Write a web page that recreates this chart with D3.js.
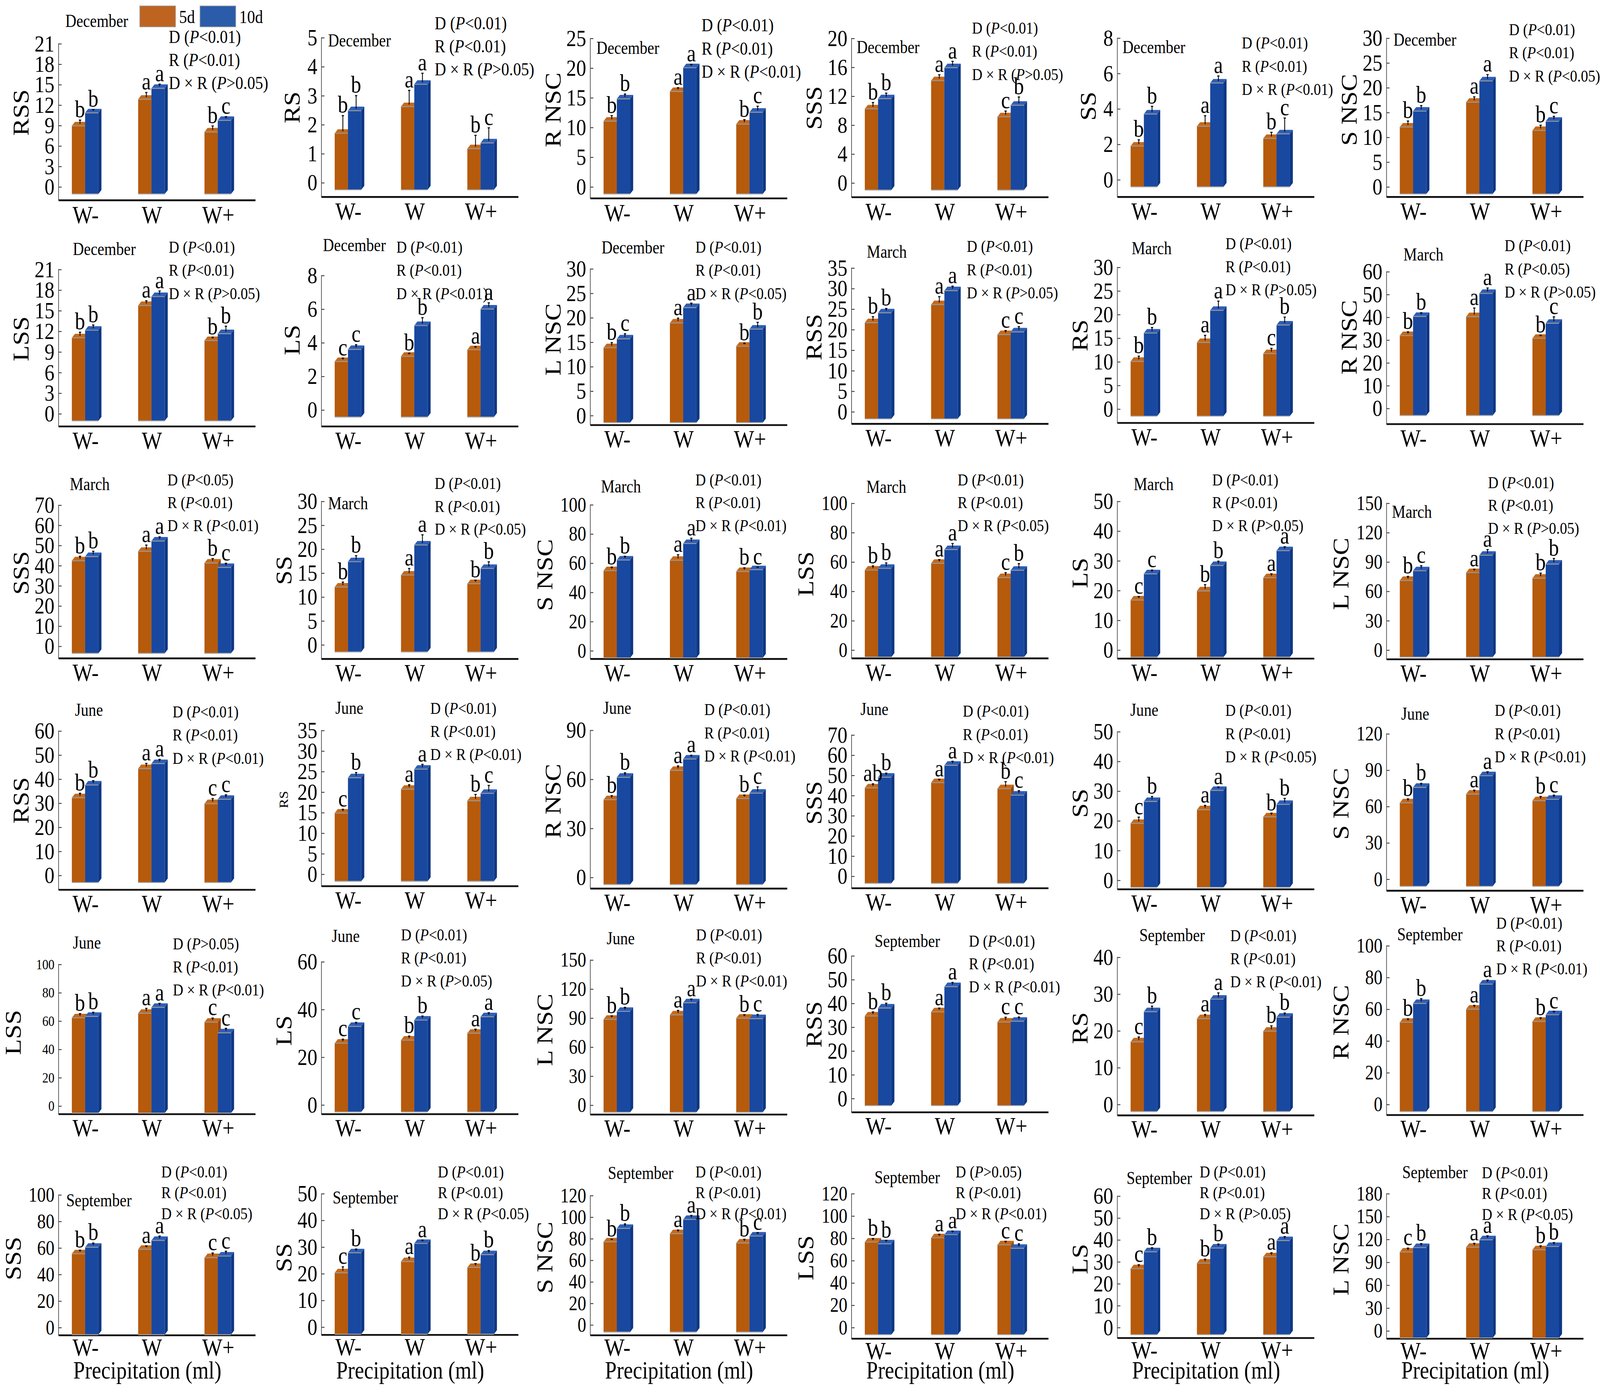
<!DOCTYPE html>
<html>
<head>
<meta charset="utf-8">
<script src="https://cdn.jsdelivr.net/npm/d3@7"></script>
<style>
  html, body { margin: 0; padding: 0; background: #fff; overflow: hidden; }
  svg { display: block; font-family: "Liberation Serif", "Times New Roman", Times, serif; }
</style>
</head>
<body>
<div id="chart"></div>
<script>
// ---- data ----
const groups = ['W-', 'W', 'W+'];
const seriesNames = ['5d', '10d'];

const panelLabels = [
  'RSS', 'RS', 'R NSC', 'SSS', 'SS', 'S NSC',
  'LSS', 'LS', 'L NSC', 'RSS', 'RS', 'R NSC',
  'SSS', 'SS', 'S NSC', 'LSS', 'LS', 'L NSC',
  'RSS', 'RS', 'R NSC', 'SSS', 'SS', 'S NSC',
  'LSS', 'LS', 'L NSC', 'RSS', 'RS', 'R NSC',
  'SSS', 'SS', 'S NSC', 'LSS', 'LS', 'L NSC'
];
const panelMonths = [
  ...Array(9).fill('December'), ...Array(9).fill('March'),
  ...Array(9).fill('June'), ...Array(9).fill('September')
];

const tickMax = [21, 5, 25, 20, 8, 30, 21, 8, 30, 35, 30, 60, 70, 30, 100, 100, 50, 150,
  60, 35, 90, 70, 50, 120, 100, 60, 150, 60, 40, 100, 100, 50, 120, 120, 60, 180];
const tickStep = [3, 1, 5, 4, 2, 5, 3, 2, 5, 5, 5, 10, 10, 5, 20, 20, 10, 30,
  10, 5, 30, 10, 10, 30, 20, 20, 30, 10, 10, 20, 20, 10, 20, 20, 10, 30];

// values per panel: [W-, W, W+]
const values5d = [
  [8.9, 12.8, 8.0], [1.69, 2.61, 1.16], [11.0, 16.0, 10.5], [10.2, 14.1, 9.1], [1.88, 3.0, 2.31], [12.0, 17.0, 11.3],
  [11.0, 15.7, 10.6], [2.86, 3.17, 3.56], [13.8, 18.85, 14.1], [21.6, 26.0, 18.7], [10.0, 14.0, 11.65], [31.8, 40.1, 30.6],
  [42.2, 46.9, 41.1], [12.0, 14.5, 12.7], [54.6, 61.7, 54.0], [54.2, 58.8, 49.1], [16.7, 19.75, 24.2], [70.7, 78.7, 73.0],
  [32.1, 44.2, 29.65], [14.8, 20.6, 17.8], [47.3, 65.2, 48.0], [43.6, 46.2, 43.2], [19.0, 23.6, 21.2], [62.7, 69.9, 64.5],
  [62.0, 65.2, 58.9], [25.7, 27.0, 29.9], [88.3, 92.9, 89.5], [34.55, 36.3, 32.0], [16.9, 23.2, 19.8], [51.5, 59.8, 52.1],
  [55.3, 58.7, 52.4], [20.2, 24.4, 22.2], [76.7, 84.3, 75.6], [76.3, 80.1, 73.8], [26.65, 29.2, 32.1], [102.9, 109.2, 105.9]
];
const values10d = [
  [10.8, 14.4, 9.7], [2.47, 3.38, 1.36], [14.75, 20.0, 12.5], [11.6, 15.9, 10.7], [3.69, 5.44, 2.57], [15.2, 21.3, 13.15],
  [12.1, 17.0, 11.6], [3.58, 5.0, 5.98], [15.6, 22.0, 17.6], [24.0, 29.4, 19.35], [16.0, 20.8, 17.7], [40.2, 50.3, 37.2],
  [44.3, 52.0, 38.9], [17.3, 20.8, 15.9], [61.9, 73.2, 55.3], [55.4, 68.2, 54.1], [25.5, 28.3, 33.3], [80.6, 96.5, 87.4],
  [37.4, 46.3, 31.45], [23.4, 25.5, 19.6], [61.0, 72.2, 51.3], [48.9, 54.8, 40.0], [26.4, 30.1, 25.4], [75.5, 85.1, 65.6],
  [63.0, 69.4, 51.4], [32.75, 35.4, 36.8], [96.5, 105.4, 89.0], [37.9, 46.9, 32.35], [25.1, 28.5, 23.6], [63.4, 75.6, 56.3],
  [60.25, 65.4, 53.6], [27.7, 31.2, 27.0], [89.2, 97.5, 82.1], [74.7, 83.0, 70.7], [34.4, 36.1, 39.5], [108.8, 119.0, 110.2]
];
const err5d = [
  [0.54, 0.69, 0.58], [0.54, 0.49, 0.39], [0.59, 0.29, 0.42], [0.59, 0.53, 0.51], [0.24, 0.48, 0.23], [0.8, 0.68, 0.65],
  [0.51, 0.4, 0.18], [0.08, 0.06, 0.06], [0.63, 0.57, 0.2], [0.96, 1.44, 0.49], [0.68, 1.09, 0.68], [0.75, 2.9, 0.43],
  [1.22, 2.1, 1.22], [0.61, 0.95, 0.3], [1.07, 2.4, 1.18], [1.48, 1.17, 1.99], [0.48, 1.43, 0.63], [2.06, 1.45, 3.1],
  [1.02, 1.33, 1.27], [0.42, 0.6, 1.04], [1.23, 1.5, 0.87], [1.0, 0.63, 2.48], [1.43, 0.78, 0.58], [1.6, 1.6, 1.8],
  [1.5, 2.06, 1.5], [0.85, 0.85, 0.85], [1.47, 2.55, 1.47], [0.85, 0.72, 1.16], [0.79, 0.59, 0.91], [0.9, 1.08, 0.99],
  [1.18, 0.96, 1.97], [1.48, 0.92, 0.7], [0.5, 1.46, 1.6], [1.3, 1.3, 1.3], [0.9, 0.9, 0.9], [2.5, 2.5, 2.5]
];
const err10d = [
  [0.2, 0.32, 0.25], [0.45, 0.31, 0.45], [0.47, 0.21, 0.67], [0.49, 0.59, 0.86], [0.32, 0.28, 0.78], [0.71, 0.86, 0.59],
  [0.47, 0.51, 0.79], [0.16, 0.35, 0.25], [0.63, 0.5, 0.97], [0.56, 0.6, 0.78], [0.74, 1.53, 1.25], [0.75, 1.48, 1.93],
  [1.6, 1.07, 1.07], [0.83, 1.7, 0.95], [1.18, 2.2, 0.36], [2.3, 2.7, 3.1], [0.58, 0.78, 0.63], [3.1, 3.7, 3.7],
  [0.96, 0.9, 1.02], [0.78, 0.67, 1.44], [1.5, 1.05, 2.6], [1.0, 1.0, 1.22], [0.98, 0.48, 1.33], [1.6, 1.6, 1.8],
  [1.5, 1.4, 1.74], [0.85, 0.85, 0.85], [2.08, 1.78, 2.24], [1.16, 0.91, 0.91], [0.95, 1.16, 0.59], [1.74, 1.27, 0.8],
  [1.63, 1.75, 2.08], [0.64, 0.53, 0.81], [2.29, 1.87, 1.32], [1.3, 1.3, 2.2], [0.9, 0.9, 0.9], [2.5, 2.5, 2.5]
];
const letters5d = [
  ['b', 'a', 'b'], ['b', 'a', 'b'], ['b', 'a', 'b'], ['b', 'a', 'c'], ['b', 'a', 'b'], ['b', 'a', 'b'],
  ['b', 'a', 'b'], ['c', 'b', 'a'], ['b', 'a', 'b'], ['b', 'a', 'c'], ['b', 'a', 'c'], ['b', 'a', 'b'],
  ['b', 'a', 'b'], ['b', 'a', 'b'], ['b', 'a', 'b'], ['b', 'a', 'c'], ['c', 'b', 'a'], ['b', 'a', 'b'],
  ['b', 'a', 'c'], ['c', 'a', 'b'], ['b', 'a', 'b'], ['ab', 'a', 'b'], ['c', 'a', 'b'], ['b', 'a', 'b'],
  ['b', 'a', 'c'], ['c', 'b', 'a'], ['b', 'a', 'b'], ['b', 'a', 'c'], ['c', 'a', 'b'], ['b', 'a', 'b'],
  ['b', 'a', 'c'], ['c', 'a', 'b'], ['b', 'a', 'b'], ['b', 'a', 'c'], ['c', 'b', 'a'], ['c', 'a', 'b']
];
const letters10d = [
  ['b', 'a', 'c'], ['b', 'a', 'c'], ['b', 'a', 'c'], ['b', 'a', 'b'], ['b', 'a', 'c'], ['b', 'a', 'c'],
  ['b', 'a', 'b'], ['c', 'b', 'a'], ['c', 'a', 'b'], ['b', 'a', 'c'], ['b', 'a', 'b'], ['b', 'a', 'c'],
  ['b', 'a', 'c'], ['b', 'a', 'b'], ['b', 'a', 'c'], ['b', 'a', 'b'], ['c', 'b', 'a'], ['c', 'a', 'b'],
  ['b', 'a', 'c'], ['b', 'a', 'c'], ['b', 'a', 'c'], ['b', 'a', 'c'], ['b', 'a', 'b'], ['b', 'a', 'c'],
  ['b', 'a', 'c'], ['c', 'b', 'a'], ['b', 'a', 'c'], ['b', 'a', 'c'], ['b', 'a', 'b'], ['b', 'a', 'c'],
  ['b', 'a', 'c'], ['b', 'a', 'b'], ['b', 'a', 'c'], ['b', 'a', 'c'], ['b', 'b', 'a'], ['b', 'a', 'b']
];
// two-way ANOVA p-values: D, R, D x R
const pD = [
  '<0.01', '<0.01', '<0.01', '<0.01', '<0.01', '<0.01', '<0.01', '<0.01', '<0.01', '<0.01', '<0.01', '<0.01',
  '<0.05', '<0.01', '<0.01', '<0.01', '<0.01', '<0.01', '<0.01', '<0.01', '<0.01', '<0.01', '<0.01', '<0.01',
  '>0.05', '<0.01', '<0.01', '<0.01', '<0.01', '<0.01', '<0.01', '<0.01', '<0.01', '>0.05', '<0.01', '<0.01'
];
const pR = [
  '<0.01', '<0.01', '<0.01', '<0.01', '<0.01', '<0.01', '<0.01', '<0.01', '<0.01', '<0.01', '<0.01', '<0.05',
  '<0.01', '<0.01', '<0.01', '<0.01', '<0.01', '<0.01', '<0.01', '<0.01', '<0.01', '<0.01', '<0.01', '<0.01',
  '<0.01', '<0.01', '<0.01', '<0.01', '<0.01', '<0.01', '<0.01', '<0.01', '<0.01', '<0.01', '<0.01', '<0.01'
];
const pDR = [
  '>0.05', '>0.05', '<0.01', '>0.05', '<0.01', '<0.05', '>0.05', '<0.01', '<0.05', '>0.05', '>0.05', '>0.05',
  '<0.01', '<0.05', '<0.01', '<0.05', '>0.05', '>0.05', '<0.01', '<0.01', '<0.01', '<0.01', '<0.05', '<0.01',
  '<0.01', '>0.05', '<0.01', '<0.01', '<0.01', '<0.01', '<0.05', '<0.05', '<0.01', '<0.01', '>0.05', '<0.05'
];

// ---- layout (drawn in 1568 x 1172.6 units, stretched over the window) ----
const VW = 1568, VH = 1172.6;
const W = window.innerWidth || 4770;
const H = window.innerHeight || 3567;
const colX = [57.4, 315, 578.5, 834.5, 1095, 1358.8];
const plotTop = [36.5, 31.4, 32, 32, 31.7, 31.8, 226.5, 231.6, 226, 225.3, 224.7, 228.4,
  424.9, 421.7, 424.6, 423.3, 421.7, 423.3, 615, 614.6, 614.4, 618.4, 615.6, 617.4,
  811.5, 809.3, 807.8, 804.3, 805.5, 795.8, 1005.5, 1004.5, 1006.1, 1004.5, 1006.5, 1004.5];
const plotZero = [157, 153.5, 157, 153.7, 151, 157, 348, 344.8, 349.5, 346.3, 344, 343.5,
  543.7, 542.5, 547.5, 546.9, 546.9, 546.9, 736.6, 735.6, 738.3, 737.3, 740.7, 739.8,
  930.7, 929.8, 930, 924.4, 929.4, 929.4, 1117.2, 1116.8, 1115, 1117.2, 1117.2, 1120];
const axisLineY = [168.6, 165.8, 167, 166, 165.8, 165.8, 359, 359, 357.8, 356.8, 356, 357,
  554.2, 554.7, 554.7, 554.2, 554.4, 555, 749, 746, 748, 747.7, 748.6, 749.8,
  937.9, 937.9, 938.2, 936.3, 938.9, 938.6, 1124, 1123.7, 1124, 1126.9, 1126.3, 1126.9];
const monthPos = [[6.6, 22.6], [6.5, 39], [6, 45.3], [5, 44.7], [5, 44.7], [6.8, 38.4],
  [14, 214.6], [1.5, 211.5], [11, 213.3], [15, 217.1], [14, 214], [16.6, 219.4],
  [11, 412.5], [6.5, 428.6], [10.5, 414.5], [14.5, 414.8], [16, 412.5], [5.3, 435.9],
  [16, 602.7], [13.6, 600.8], [12.6, 600.8], [8.7, 602], [12.7, 602.7], [14.4, 605.8],
  [14, 798.6], [10, 792.9], [16, 794.8], [22.6, 797.3], [21.6, 792.3], [10.4, 791.7],
  [7.5, 1015.6], [11, 1013], [17.3, 992.3], [22.5, 996], [9, 996.7], [15.4, 991.7]];
const annoPos = [[108, 36], [111, 24.5], [109, 26.4], [118, 28.3], [122, 40.9], [120, 29.6],
  [108, 212.7], [73.5, 212.7], [103, 212.7], [113, 212.1], [106, 209.6], [115.7, 211.5],
  [106.6, 408.5], [111, 411.6], [103, 408.5], [104, 408.5], [93, 408.5], [99.4, 410.8],
  [111.7, 603.9], [106.7, 600.8], [111.7, 602], [109, 603.3], [105.8, 602.7], [106, 602.7],
  [112, 799.2], [78, 791.7], [103.6, 791.7], [115, 796.7], [110.7, 792.3], [107.5, 781.6],
  [100.6, 991], [114, 991], [103, 991], [102, 991], [80.6, 991], [93.4, 991.7]];
const annoGap = [19.5, 19.5, 19.3, 19.5, 19.3, 17.6];
const xLabelGap = [19.4, 19, 19, 19, 18.6, 17.4];

const barW = 13, depthX = 3, depthY = 3.4, baseDrop = 6.3;
const colors = {
  '5d': { front: '#B65A0C', top: '#C4691B', side: '#93480A' },
  '10d': { front: '#1848A0', top: '#2E5EB7', side: '#0E3784' }
};

const svg = d3.select('#chart')
  .append('svg')
  .attr('width', W)
  .attr('height', H)
  .attr('viewBox', `0 0 ${VW} ${VH}`)
  .attr('preserveAspectRatio', 'none');

svg.append('rect').attr('width', VW).attr('height', VH).attr('fill', '#fff');

function addAnno(g, x, y, head, p, size) {
  const t = g.append('text').attr('x', x).attr('y', y).attr('font-size', size).attr('fill', '#000');
  t.append('tspan').text(`${head} (`);
  t.append('tspan').attr('font-style', 'italic').text('P');
  t.append('tspan').text(`${p})`);
}

panelLabels.forEach((label, i) => {
  const row = Math.floor(i / 6);
  const col = i % 6;
  const ax = colX[col];
  const g = svg.append('g').attr('class', 'panel');

  const y = d3.scaleLinear().domain([0, tickMax[i]]).range([plotZero[i], plotTop[i]]);
  const x = d3.scalePoint().domain(groups).range([ax + 26, ax + 156]);
  const baseY = plotZero[i] + baseDrop;

  // y axis
  const ticks = d3.range(0, tickMax[i] + tickStep[i] / 2, tickStep[i]);
  const digits = String(tickMax[i]).length;
  const tickFont = i === 24 ? 12 : (digits >= 3 ? 17 : 19.5);
  const yAxis = g.append('g')
    .attr('transform', `translate(${ax},0)`)
    .call(d3.axisLeft(y).tickValues(ticks).tickFormat(d3.format('d')).tickSize(-3).tickPadding(4));
  yAxis.select('.domain').remove();
  yAxis.attr('font-family', null).attr('font-size', tickFont);
  yAxis.selectAll('.tick line').attr('stroke', '#333').attr('stroke-width', 0.7);
  yAxis.selectAll('.tick text').attr('fill', '#000');

  g.append('line')
    .attr('x1', ax).attr('x2', ax)
    .attr('y1', plotTop[i]).attr('y2', axisLineY[i])
    .attr('stroke', '#555').attr('stroke-width', 0.7);

  // bottom axis line and category labels
  g.append('line')
    .attr('x1', ax).attr('x2', ax + 193)
    .attr('y1', axisLineY[i]).attr('y2', axisLineY[i])
    .attr('stroke', '#111').attr('stroke-width', 1.5);

  const xAxis = g.append('g')
    .attr('transform', `translate(0,${axisLineY[i]})`)
    .call(d3.axisBottom(x).tickSize(0));
  xAxis.select('.domain').remove();
  xAxis.attr('font-family', null).attr('font-size', 21);
  xAxis.selectAll('.tick text').attr('y', xLabelGap[row]).attr('dy', null).attr('fill', '#000');

  // y label
  const labelFont = i === 19 ? 12 : 22;
  g.append('text')
    .attr('transform', `translate(${ax - (21 + 8 * digits)},${(plotTop[i] + plotZero[i]) / 2 - 2}) rotate(-90)`)
    .attr('text-anchor', 'middle')
    .attr('dy', '0.35em')
    .attr('font-size', labelFont)
    .text(label);

  // bars
  const bars = groups.flatMap((grp, j) => seriesNames.map((s, k) => ({
    group: grp,
    series: s,
    value: (k === 0 ? values5d : values10d)[i][j],
    err: (k === 0 ? err5d : err10d)[i][j],
    letter: (k === 0 ? letters5d : letters10d)[i][j],
    x0: x(grp) + (k === 0 ? -barW : 0)
  })));

  const barG = g.append('g');
  bars.forEach(d => {
    const c = colors[d.series];
    const yv = y(d.value);
    const bg = barG.append('g');
    bg.append('rect')
      .attr('x', d.x0).attr('y', yv)
      .attr('width', barW).attr('height', baseY - yv)
      .attr('fill', c.front);
    bg.append('polygon')
      .attr('points', [[d.x0, yv], [d.x0 + depthX, yv - depthY], [d.x0 + barW + depthX, yv - depthY], [d.x0 + barW, yv]].join(' '))
      .attr('fill', c.top);
    bg.append('polygon')
      .attr('points', [[d.x0 + barW, yv], [d.x0 + barW + depthX, yv - depthY], [d.x0 + barW + depthX, baseY - depthY], [d.x0 + barW, baseY]].join(' '))
      .attr('fill', c.side);
    bg.append('line')
      .attr('x1', d.x0).attr('x2', d.x0 + barW)
      .attr('y1', yv).attr('y2', yv)
      .attr('stroke', '#9a9a9a').attr('stroke-width', 0.8);
    bg.append('line')
      .attr('x1', d.x0).attr('x2', d.x0 + barW)
      .attr('y1', baseY).attr('y2', baseY)
      .attr('stroke', '#aaa').attr('stroke-width', 0.8);

    // error bar
    const ex = d.x0 + barW / 2 + depthX / 2;
    const ey0 = yv - depthY / 2;
    const ey1 = y(d.value + d.err) - depthY / 2;
    bg.append('line')
      .attr('x1', ex).attr('x2', ex).attr('y1', ey0).attr('y2', ey1)
      .attr('stroke', '#000').attr('stroke-width', 0.8);
    bg.append('line')
      .attr('x1', ex - 1.1).attr('x2', ex + 1.1).attr('y1', ey1).attr('y2', ey1)
      .attr('stroke', '#000').attr('stroke-width', 0.9);

    // significance letter
    g.append('text')
      .attr('x', ex)
      .attr('y', ey1 - 2.5)
      .attr('text-anchor', 'middle')
      .attr('font-size', 20)
      .text(d.letter);
  });

  // month label
  g.append('text')
    .attr('x', ax + monthPos[i][0])
    .attr('y', monthPos[i][1])
    .attr('font-size', 15)
    .text(panelMonths[i]);

  // ANOVA notes
  const ansX = ax + annoPos[i][0];
  const ansY = annoPos[i][1];
  const gap = annoGap[row];
  const annoFont = i < 3 ? 15.5 : 14.2;
  addAnno(g, ansX, ansY, 'D', pD[i], annoFont);
  addAnno(g, ansX, ansY + gap, 'R', pR[i], annoFont);
  addAnno(g, ansX, ansY + gap * 2, 'D × R', pDR[i], annoFont);

  if (row === 5) {
    g.append('text')
      .attr('x', ax + 87)
      .attr('y', 1160.5)
      .attr('text-anchor', 'middle')
      .attr('font-size', 20.5)
      .text('Precipitation (ml)');
  }
});

// legend (top of first panel)
const legend = svg.append('g');
const legendColors = ['#BE6420', '#2A5CAA'];
seriesNames.forEach((s, k) => {
  legend.append('rect')
    .attr('x', 137 + k * 59).attr('y', 5)
    .attr('width', 35).attr('height', 17.6)
    .attr('fill', legendColors[k])
    .attr('stroke', '#999').attr('stroke-width', 0.6);
  legend.append('text')
    .attr('x', 175.5 + k * 59).attr('y', 19.5)
    .attr('font-size', 15.5)
    .text(s);
});
</script>
</body>
</html>
